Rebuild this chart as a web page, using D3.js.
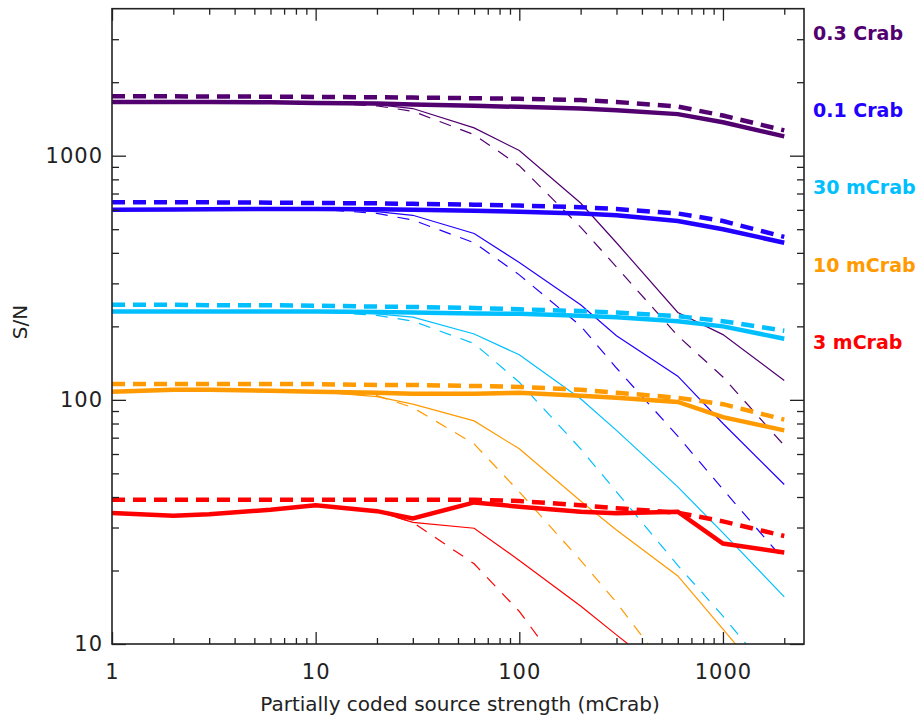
<!DOCTYPE html>
<html>
<head>
<meta charset="utf-8">
<script src="https://cdn.jsdelivr.net/npm/d3@7"></script>
<style>
  body { margin: 0; background: #fff; }
  text { font-family: "DejaVu Sans", sans-serif; }
</style>
</head>
<body>
<div id="chart"></div>
<script>
// source strength samples (mCrab)
const xValues = [1, 2, 3, 6, 10, 20, 30, 60, 100, 200, 300, 600, 1000, 2000];

// 0.3 Crab
const crab03Thick     = [1660, 1660, 1660, 1655, 1645, 1635, 1620, 1600, 1585, 1560, 1535, 1480, 1370, 1200];
const crab03ThickDash = [1750, 1750, 1748, 1745, 1740, 1735, 1730, 1720, 1710, 1690, 1660, 1590, 1460, 1270];
const crab03Thin      = [1660, 1660, 1660, 1655, 1645, 1620, 1560, 1300, 1050, 640, 440, 228, 185, 120];
const crab03ThinDash  = [1660, 1660, 1660, 1655, 1645, 1600, 1520, 1220, 910, 510, 350, 183, 124, 65];
// 0.1 Crab
const crab01Thick     = [600, 602, 604, 605, 605, 603, 600, 595, 590, 580, 570, 540, 500, 440];
const crab01ThickDash = [645, 645, 644, 642, 640, 638, 635, 630, 625, 615, 605, 580, 540, 465];
const crab01Thin      = [600, 602, 604, 605, 605, 590, 570, 480, 365, 245, 183, 125, 80, 45];
const crab01ThinDash  = [600, 602, 604, 605, 605, 580, 545, 440, 325, 201, 135, 71, 43, 22];
// 30 mCrab
const m30Thick     = [230, 230, 230, 230, 230, 229, 228, 226, 225, 221, 218, 210, 200, 178];
const m30ThickDash = [245, 245, 244, 244, 243, 241, 240, 238, 235, 231, 228, 220, 210, 192];
const m30Thin      = [230, 230, 230, 230, 230, 225, 218, 186, 153, 101, 75, 44, 28.5, 15.6];
const m30ThinDash  = [230, 230, 230, 230, 230, 222, 210, 170, 118, 63, 42, 21, 13, 6.5];
// 10 mCrab
const m10Thick     = [108, 110, 110, 109, 108, 107, 106, 106, 107, 104, 102, 98, 85, 75];
const m10ThickDash = [116, 116, 116, 116, 116, 115, 115, 114, 113, 110, 107, 102, 96, 83];
const m10Thin      = [108, 110, 110, 109, 108, 103, 96, 82, 63, 38.5, 29.3, 19, 11.5, 5.8];
const m10ThinDash  = [108, 110, 110, 109, 108, 104, 93, 66, 42, 22, 14.8, 6.9, 4.1, 1.9];
// 3 mCrab
const m3Thick     = [34.4, 33.5, 34, 35.5, 37, 35, 32.7, 38, 36.5, 34.8, 34.3, 34.8, 25.8, 23.7];
const m3ThickDash = [39, 39, 39, 39, 39, 39, 39, 39, 38.5, 37, 36, 34.5, 31.8, 27.7];
const m3Thin      = [34.4, 33.5, 34, 35.5, 37, 35, 31.5, 29.8, 22, 14.3, 10.9, 6.9, 5, 3.2];
const m3ThinDash  = [34.4, 33.5, 34, 35.5, 37, 35, 31.5, 21.3, 13.6, 6.2, 4.1, 2, 1.2, 0.6];

const groupLabels = ["0.3 Crab", "0.1 Crab", "30 mCrab", "10 mCrab", "3 mCrab"];
const groupColors = ["#520070", "#2200ff", "#00bfff", "#ff9a00", "#ff0000"];
const groupData = [
  [crab03Thick, crab03ThickDash, crab03Thin, crab03ThinDash],
  [crab01Thick, crab01ThickDash, crab01Thin, crab01ThinDash],
  [m30Thick, m30ThickDash, m30Thin, m30ThinDash],
  [m10Thick, m10ThickDash, m10Thin, m10ThinDash],
  [m3Thick, m3ThickDash, m3Thin, m3ThinDash]
];

const xMajor = [1, 10, 100, 1000];
const yMajor = [10, 100, 1000];

const width = 924, height = 719;
const plotLeft = 112, plotRight = 804, plotTop = 8.7, plotBottom = 644;

const svg = d3.select("#chart").append("svg")
  .attr("width", width)
  .attr("height", height);

const x = d3.scaleLog().domain([1, 2500]).range([plotLeft, plotRight]);
const y = d3.scaleLog().domain([10, 4000]).range([plotBottom, plotTop]);

const xMinor = [];
[1, 10, 100, 1000].forEach(d => { for (let k = 2; k <= 9; k++) if (d * k < 2500) xMinor.push(d * k); });
const yMinor = [];
[10, 100, 1000].forEach(d => { for (let k = 2; k <= 9; k++) if (d * k < 4000) yMinor.push(d * k); });

svg.append("clipPath").attr("id", "plot")
  .append("rect")
  .attr("x", plotLeft).attr("y", plotTop)
  .attr("width", plotRight - plotLeft).attr("height", plotBottom - plotTop);

// lines
const line = d3.line()
  .x((d, i) => x(xValues[i]))
  .y(d => y(d));

const styles = [
  { w: 4.5, dash: null },
  { w: 4.5, dash: "13,8" },
  { w: 1.2, dash: null },
  { w: 1.2, dash: "12,10" }
];

const plot = svg.append("g").attr("clip-path", "url(#plot)");
groupData.forEach((g, gi) => {
  [3, 2, 1, 0].forEach(si => {
    plot.append("path")
      .datum(g[si])
      .attr("d", line)
      .attr("fill", "none")
      .attr("stroke", groupColors[gi])
      .attr("stroke-width", styles[si].w)
      .attr("stroke-dasharray", styles[si].dash);
  });
});

// axes (ticks inward on all sides)
function styleAxis(sel) {
  sel.select(".domain").remove();
  sel.selectAll("line").attr("stroke", "#222").attr("stroke-width", 1.3);
  sel.selectAll("text")
    .attr("fill", "#222")
    .style("font-size", "21px")
    .style("letter-spacing", "1px");
}

svg.append("g").attr("transform", `translate(0,${plotBottom})`)
  .call(d3.axisBottom(x).tickValues(xMinor).tickSize(-6).tickFormat(""))
  .call(styleAxis);
svg.append("g").attr("transform", `translate(0,${plotBottom})`)
  .call(d3.axisBottom(x).tickValues(xMajor).tickSize(-12).tickPadding(20).tickFormat(d3.format("d")))
  .call(styleAxis);
svg.append("g").attr("transform", `translate(0,${plotTop})`)
  .call(d3.axisTop(x).tickValues(xMinor).tickSize(-6).tickFormat(""))
  .call(styleAxis);
svg.append("g").attr("transform", `translate(0,${plotTop})`)
  .call(d3.axisTop(x).tickValues(xMajor).tickSize(-12).tickFormat(""))
  .call(styleAxis);

svg.append("g").attr("transform", `translate(${plotLeft},0)`)
  .call(d3.axisLeft(y).tickValues(yMinor).tickSize(-7).tickFormat(""))
  .call(styleAxis);
svg.append("g").attr("transform", `translate(${plotLeft},0)`)
  .call(d3.axisLeft(y).tickValues(yMajor).tickSize(-14).tickPadding(9).tickFormat(d3.format("d")))
  .call(styleAxis);
svg.append("g").attr("transform", `translate(${plotRight},0)`)
  .call(d3.axisRight(y).tickValues(yMinor).tickSize(-7).tickFormat(""))
  .call(styleAxis);
svg.append("g").attr("transform", `translate(${plotRight},0)`)
  .call(d3.axisRight(y).tickValues(yMajor).tickSize(-14).tickFormat(""))
  .call(styleAxis);

svg.append("rect")
  .attr("x", plotLeft).attr("y", plotTop)
  .attr("width", plotRight - plotLeft).attr("height", plotBottom - plotTop)
  .attr("fill", "none")
  .attr("stroke", "#222")
  .attr("stroke-width", 1.6);

// axis titles
svg.append("text")
  .attr("x", (plotLeft + plotRight) / 2 + 2)
  .attr("y", 711)
  .attr("text-anchor", "middle")
  .attr("fill", "#222")
  .style("font-size", "20px")
  .text("Partially coded source strength (mCrab)");

svg.append("text")
  .attr("transform", "translate(27,322) rotate(-90)")
  .attr("text-anchor", "middle")
  .attr("fill", "#222")
  .style("font-size", "20px")
  .text("S/N");

// right-hand labels
svg.selectAll(".glabel")
  .data(groupLabels)
  .enter()
  .append("text")
  .attr("class", "glabel")
  .attr("x", 813)
  .attr("y", (d, i) => 33 + i * 77.3)
  .attr("dy", "0.36em")
  .attr("fill", (d, i) => groupColors[i])
  .style("font-size", "19px")
  .style("font-weight", "bold")
  .text(d => d);
</script>
</body>
</html>
